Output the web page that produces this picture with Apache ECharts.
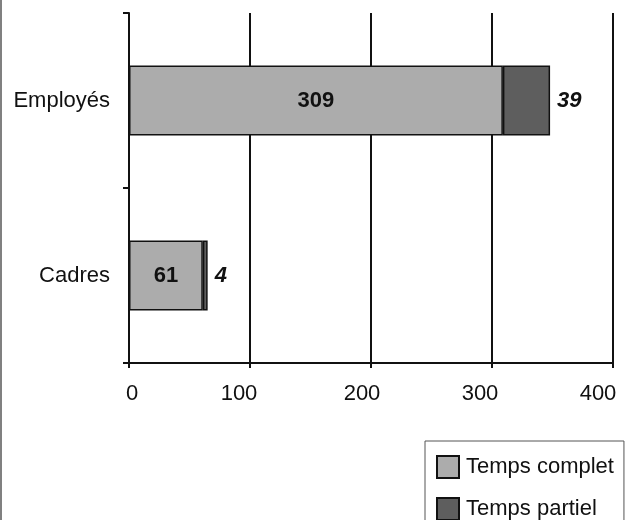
<!DOCTYPE html>
<html>
<head>
<meta charset="utf-8">
<script src="https://cdn.jsdelivr.net/npm/echarts@6/dist/echarts.min.js"></script>
<style>
html,body{margin:0;padding:0;background:#fff;}
#chart{width:630px;height:520px;}
</style>
</head>
<body>
<div id="chart"></div>
<script>
const categories = ['Cadres', 'Employés'];
const tempsComplet = [61, 309];
const tempsPartiel = [4, 39];
const seriesNames = ['Temps complet', 'Temps partiel'];
const xTicks = [0, 100, 200, 300, 400];

const chart = echarts.init(document.getElementById('chart'), null, {renderer: 'canvas'});
const font = 'Liberation Sans, Arial, sans-serif';
// small per-label horizontal nudges seen in the scanned original
const labelShift = [3, -11, -9, -12, -15];
const rich = {};
labelShift.forEach((s, i) => {
  rich['l' + i] = {
    color: '#111', fontSize: 22, fontFamily: font,
    padding: s >= 0 ? [0, 0, 0, 2 * s] : [0, -2 * s, 0, 0]
  };
});
chart.setOption({
  animation: false,
  backgroundColor: '#fff',
  textStyle: {fontFamily: font},
  grid: {left: 129, right: 17, top: 13, bottom: 157, containLabel: false},
  xAxis: {
    type: 'value',
    min: xTicks[0], max: xTicks[xTicks.length - 1], interval: 100,
    axisLine: {show: true, lineStyle: {color: '#111', width: 2}},
    axisTick: {show: true, length: 5, lineStyle: {color: '#111', width: 2}},
    axisLabel: {
      color: '#111', fontSize: 22, fontFamily: font, margin: 20,
      formatter: function (v) {
        const i = xTicks.indexOf(v);
        return '{l' + (i < 0 ? 0 : i) + '|' + v + '}';
      },
      rich: rich
    },
    splitLine: {show: true, lineStyle: {color: '#111', width: 2}}
  },
  yAxis: {
    type: 'category',
    data: categories,
    axisLine: {show: true, lineStyle: {color: '#111', width: 2}},
    axisTick: {show: true, length: 6, inside: false, lineStyle: {color: '#111', width: 2}},
    axisLabel: {color: '#111', fontSize: 22, fontFamily: font, margin: 19},
    splitLine: {show: false}
  },
  legend: {
    type: 'plain',
    orient: 'vertical',
    left: 425, top: 441, height: 200,
    data: seriesNames,
    icon: 'rect',
    itemWidth: 22, itemHeight: 22, itemGap: 18,
    padding: [14, 10, 14, 11],
    borderColor: '#555', borderWidth: 1,
    backgroundColor: '#fff',
    textStyle: {color: '#111', fontSize: 22, fontFamily: font, padding: [0, 0, 0, 2]}
  },
  series: [
    {
      name: seriesNames[0], type: 'bar', stack: 'tot', data: tempsComplet,
      barWidth: 70,
      itemStyle: {color: '#acacac', borderColor: '#111', borderWidth: 1.5},
      label: {show: true, position: 'inside', color: '#111', fontSize: 22, fontWeight: 'bold', fontFamily: font}
    },
    {
      name: seriesNames[1], type: 'bar', stack: 'tot', data: tempsPartiel,
      barWidth: 70,
      itemStyle: {color: '#5e5e5e', borderColor: '#111', borderWidth: 1.5},
      label: {show: true, position: 'right', distance: 7, color: '#111', fontSize: 22, fontWeight: 'bold', fontStyle: 'italic', fontFamily: font}
    }
  ],
  graphic: [
    {type: 'rect', left: 0, top: 0, shape: {width: 2, height: 520}, style: {fill: '#808080'}, silent: true}
  ]
});
</script>
</body>
</html>
